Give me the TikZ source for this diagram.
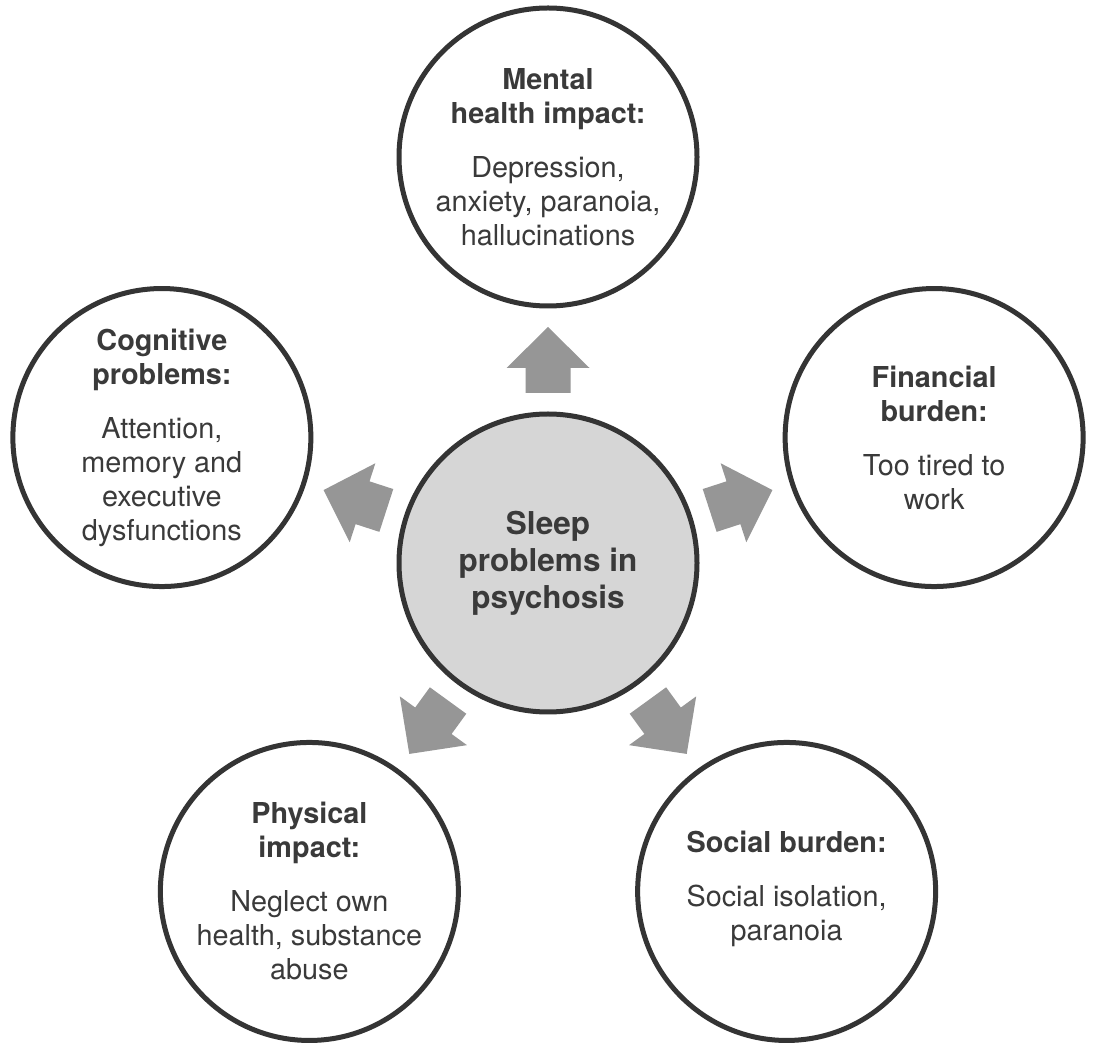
\documentclass[tikz,border=0pt]{standalone}
\usepackage{fontspec}
\setmainfont{TeX Gyre Heros}
\usetikzlibrary{calc}
\definecolor{inkgray}{RGB}{58,58,58}
\definecolor{ringgray}{RGB}{52,52,52}
\definecolor{hubfill}{RGB}{214,214,214}
\definecolor{arrowgray}{RGB}{150,150,150}
\begin{document}
\begin{tikzpicture}[x=1pt,y=1pt,
  ring/.style={circle, draw=ringgray, line width=5pt, minimum size=298pt, inner sep=0pt, fill=white},
  hub/.style={ring, fill=hubfill},
  txt/.style={align=center, text=inkgray, inner sep=0pt,
              font=\fontsize{28.8}{34}\selectfont},
  hubtxt/.style={align=center, text=inkgray, inner sep=0pt,
                 font=\fontsize{31.5}{37}\selectfont\bfseries},
  blockarrow/.style={fill=arrowgray, draw=none}
]
\useasboundingbox[fill=white] (0,0) rectangle (1095,1045);

% centre of the layout; the five outer circles sit on a regular pentagon
\coordinate (O) at (548,482);

\node[hub]  (hub) at (O) {};
\node[ring] (mh)  at ($(O)+(90:406)$)  {};
\node[ring] (cog) at ($(O)+(162:406)$) {};
\node[ring] (fin) at ($(O)+(18:406)$)  {};
\node[ring] (phy) at ($(O)+(234:406)$) {};
\node[ring] (soc) at ($(O)+(306:406)$) {};

\node[hubtxt] (hubT) at (hub) {Sleep\\problems in\\psychosis};
\node[txt] (mhT) at (mh) {\textbf{Mental}\\\textbf{health impact:}\\[20pt]Depression,\\anxiety, paranoia,\\hallucinations};
\node[txt] (cogT) at (cog) {\textbf{Cognitive}\\\textbf{problems:}\\[20pt]Attention,\\memory and\\executive\\dysfunctions};
\node[txt] (finT) at (fin) {\textbf{Financial}\\\textbf{burden:}\\[20pt]Too tired to\\work};
\node[txt] (phyT) at (phy) {\textbf{Physical}\\\textbf{impact:}\\[20pt]Neglect own\\health, substance\\abuse};
\node[txt] (socT) at ([yshift=3pt]soc.center) {\textbf{Social burden:}\\[20pt]Social isolation,\\paranoia};

% block arrows half-way between the hub and each outer circle
\foreach \tgt/\ang in {mh/90, cog/162, fin/18, phy/234, soc/306}{
  \fill[blockarrow, shift={($(hub.center)!0.5!(\tgt.center)$)}, rotate=\ang]
    (33,0) -- (-8,41.5) -- (-8,22.5) -- (-33,22.5) -- (-33,-22.5)
    -- (-8,-22.5) -- (-8,-41.5) -- cycle;
}
\end{tikzpicture}
\end{document}
